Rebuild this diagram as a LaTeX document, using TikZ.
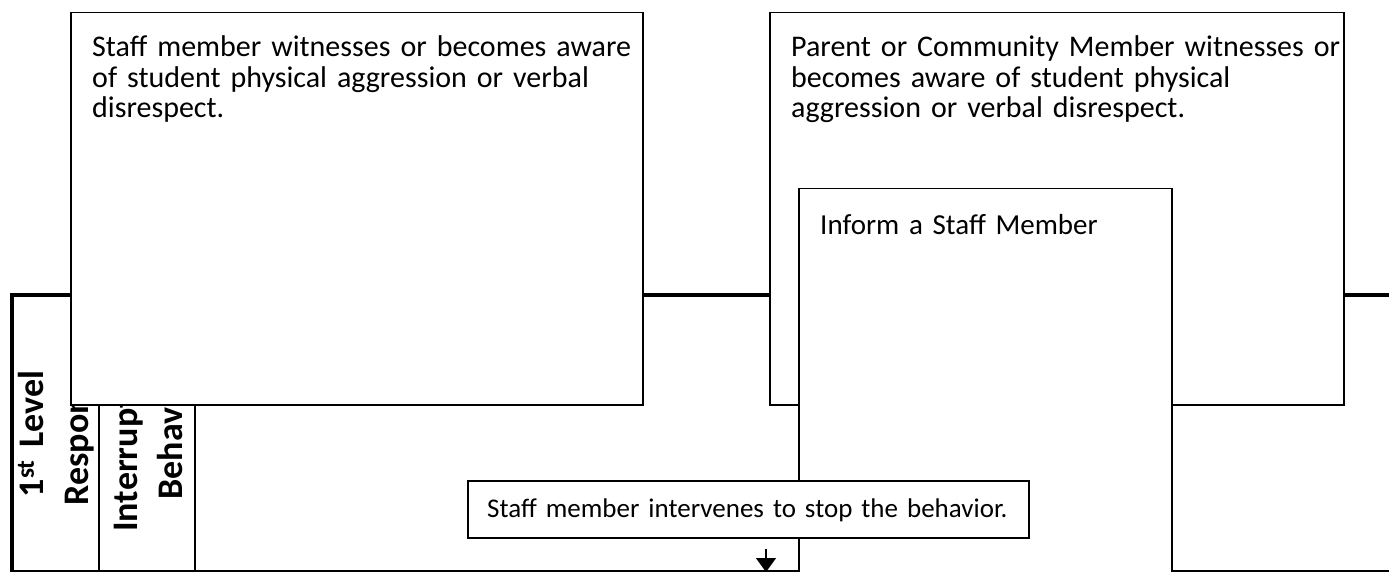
\documentclass[tikz,border=0pt]{standalone}
\usepackage{fontspec}
\setmainfont{Carlito}
\usetikzlibrary{arrows.meta}
\begin{document}
\begin{tikzpicture}[x=1pt,y=-1pt,
  box/.style={draw=black, fill=white, line width=1.5pt, rectangle, inner sep=0pt, anchor=north west},
  boxtext/.style={anchor=base west, inner sep=0pt, text width=#1, align=left, font=\fontsize{30}{30.5}\selectfont},
  midtext/.style={anchor=base west, inner sep=0pt, text width=#1, align=left, font=\fontsize{29}{30.5}\selectfont},
  smalltext/.style={anchor=base west, inner sep=0pt, text width=#1, align=left, font=\fontsize{27}{30.5}\selectfont},
  rottext/.style={anchor=base, inner sep=0pt, text width=300pt, align=center, rotate=90, font=\fontsize{36}{45.5}\selectfont\bfseries},
  thickline/.style={line width=3.5pt},
  thinline/.style={line width=1.5pt},
  arrowline/.style={line width=1.5pt, -{Triangle[width=20pt,length=14pt]}}
]
\useasboundingbox (0,0) rectangle (1389,572);
\clip (0,0) rectangle (1389,572);
% frame of the level table
\draw[thinline] (12,571) -- (1400,571);
\draw[thinline] (99,295) -- (99,580);
\draw[thinline] (195,295) -- (195,580);
\draw[thickline] (12,580) -- (12,295) -- (1400,295);
\node[rottext] (level) at (43,434) {1\textsuperscript{st} Level\\Response};
\node[rottext] (interrupt) at (137,433) {Interrupt the\\Behavior};
% boxes
\node[box, minimum width=572pt, minimum height=392pt] (staffaware) at (70,12) {};
\node[boxtext=560pt] (staffawaretxt) at ([shift={(22,45)}]staffaware.north west)
  {Staff member witnesses or becomes aware\\of student physical aggression or verbal\\disrespect.};
\node[box, minimum width=574pt, minimum height=392pt] (parent) at (769,12) {};
\node[boxtext=560pt] (parenttxt) at ([shift={(22,45)}]parent.north west)
  {Parent or Community Member witnesses or\\becomes aware of student physical\\aggression or verbal disrespect.};
\node[box, minimum width=373pt, minimum height=420pt] (inform) at (798,188) {};
\node[midtext=345pt] (informtxt) at ([shift={(22,46)}]inform.north west) {Inform a Staff Member};
\node[box, minimum width=561pt, minimum height=57pt] (intervene) at (467,480) {};
\node[smalltext=540pt] (intervenetxt) at ([shift={(20,37)}]intervene.north west) {Staff member intervenes to stop the behavior.};
% arrow
\coordinate (arrtop) at (766,549);
\coordinate (arrbot) at (766,572);
\draw[arrowline] (arrtop) -- (arrbot);
\end{tikzpicture}
\end{document}
